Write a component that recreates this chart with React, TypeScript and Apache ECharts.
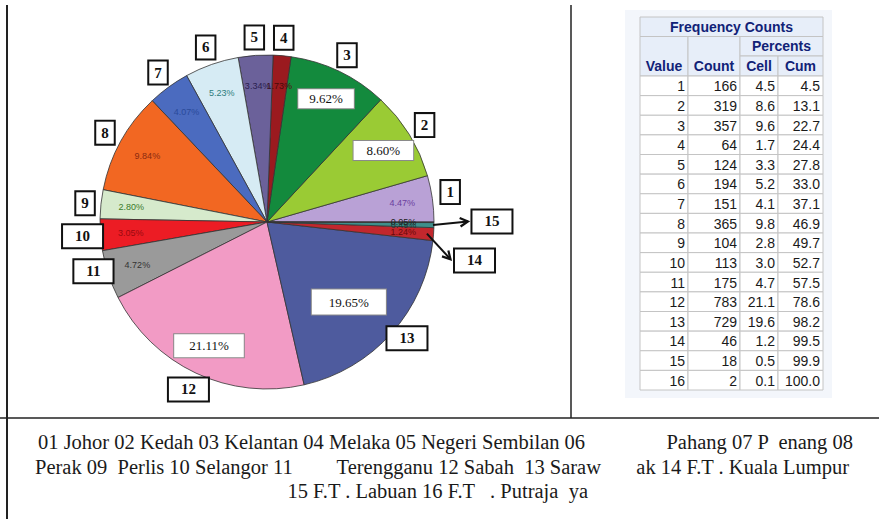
import React, { useEffect, useRef } from "react";
import * as echarts from "echarts";

// ---------- data ----------
const regionCodes = ["1", "2", "3", "4", "5", "6", "7", "8", "9", "10", "11", "12", "13", "14", "15", "16"];
const counts = [166, 319, 357, 64, 124, 194, 151, 365, 104, 113, 175, 783, 729, 46, 18, 2];
const cellPercents = ["4.5", "8.6", "9.6", "1.7", "3.3", "5.2", "4.1", "9.8", "2.8", "3.0", "4.7", "21.1", "19.6", "1.2", "0.5", "0.1"];
const cumPercents = ["4.5", "13.1", "22.7", "24.4", "27.8", "33.0", "37.1", "46.9", "49.7", "52.7", "57.5", "78.6", "98.2", "99.5", "99.9", "100.0"];
const sliceColors = [
  "#b9a1d6", "#9acb34", "#138a3d", "#9b1a1f", "#6b619a", "#d6ebf4", "#4b6bbf", "#f26722",
  "#d6eacc", "#ec1c24", "#9a9a9a", "#f29bc5", "#4e5b9e", "#c2272d", "#3f8f8b", "#777777",
];
const pctLabelColors = [
  "#6b3fa0", "#3a6a10", "#0a4a20", "#4a0a0a", "#2a2050", "#2e7d7d", "#2a4a9a", "#8a2a10",
  "#3a7a2a", "#9a0a10", "#333333", "#8a3060", "#1a2a60", "#6a0a0a", "#1a3a3a", "#222222",
];
const boxedPctIndex = [1, 2, 11, 12];
const tableTitle = "Frequency Counts";
const tableHeaders = ["Value", "Count", "Cell", "Cum"];
const percentsHeader = "Percents";
const footerLine1 = ["01 Johor 02 Kedah 03 Kelantan 04 Melaka 05 Negeri Sembilan 06", "Pahang 07 P  enang 08"];
const footerLine2 = ["Perak 09  Perlis 10 Selangor 11", "Terengganu 12 Sabah  13 Saraw", "ak 14 F.T . Kuala Lumpur"];
const footerLine3 = ["15 F.T . Labuan 16 F.T   . Putraja  ya"];

// ---------- layout ----------
const CX = 267;
const CY = 222;
const R = 167;
const total = counts.reduce((a, b) => a + b, 0);
const midAngles: number[] = [];
{
  let acc = 0;
  counts.forEach((c) => {
    midAngles.push(((acc + c / 2) / total) * 360);
    acc += c;
  });
}
const polar = (r: number, deg: number) => [
  CX + r * Math.cos((deg * Math.PI) / 180),
  CY - r * Math.sin((deg * Math.PI) / 180),
];
const pctText = (v: number) => ((v / total) * 100).toFixed(2) + "%";

const NUM_R = 182;
const numOffsets: Record<number, [number, number]> = {
  0: [0, -4],
  8: [2, 1],
  10: [2, -9],
  12: [2, -7],
  13: [23, 25],
  14: [40, -4],
};

function arrow(from: number[], to: number[]) {
  const ang = Math.atan2(to[1] - from[1], to[0] - from[0]);
  const L = 9;
  const a1 = ang + Math.PI - 0.5;
  const a2 = ang + Math.PI + 0.5;
  return [
    {
      type: "line",
      shape: { x1: from[0], y1: from[1], x2: to[0], y2: to[1] },
      style: { stroke: "#111", lineWidth: 2 },
      z: 20,
    },
    {
      type: "polyline",
      shape: {
        points: [
          [to[0] + L * Math.cos(a1), to[1] + L * Math.sin(a1)],
          [to[0], to[1]],
          [to[0] + L * Math.cos(a2), to[1] + L * Math.sin(a2)],
        ],
      },
      style: { stroke: "#111", lineWidth: 2.2, fill: "none" },
      z: 20,
    },
  ];
}

function buildTable() {
  const els: any[] = [];
  const colX = [640, 688, 740, 778, 823];
  const headY = [17, 36.5, 56, 76];
  const rowH = 19.625;
  const grid = "#c4c4c4";
  const headFill = "#e7eef9";
  const headColor = "#112277";
  const font = "Liberation Sans";
  els.push({ type: "rect", shape: { x: 625, y: 10, width: 207, height: 388 }, style: { fill: "#f3f6fb" }, z: 1 });
  const cell = (x: number, y: number, w: number, h: number, fill: string) =>
    els.push({ type: "rect", shape: { x, y, width: w, height: h }, style: { fill, stroke: grid, lineWidth: 1 }, z: 2 });
  const text = (t: string, x: number, y: number, align: string, bold: boolean, color: string) =>
    els.push({
      type: "text",
      x,
      y,
      style: {
        text: t,
        fill: color,
        fontSize: 14,
        fontFamily: font,
        fontWeight: bold ? "bold" : "normal",
        align,
        verticalAlign: "middle",
      },
      z: 3,
    });
  cell(colX[0], headY[0], colX[4] - colX[0], headY[1] - headY[0], headFill);
  text(tableTitle, (colX[0] + colX[4]) / 2, (headY[0] + headY[1]) / 2, "center", true, headColor);
  cell(colX[0], headY[1], colX[1] - colX[0], headY[3] - headY[1], headFill);
  cell(colX[1], headY[1], colX[2] - colX[1], headY[3] - headY[1], headFill);
  cell(colX[2], headY[1], colX[4] - colX[2], headY[2] - headY[1], headFill);
  text(percentsHeader, (colX[2] + colX[4]) / 2, (headY[1] + headY[2]) / 2, "center", true, headColor);
  cell(colX[2], headY[2], colX[3] - colX[2], headY[3] - headY[2], headFill);
  cell(colX[3], headY[2], colX[4] - colX[3], headY[3] - headY[2], headFill);
  tableHeaders.forEach((h, c) =>
    text(h, (colX[c] + colX[c + 1]) / 2, (headY[2] + headY[3]) / 2, "center", true, headColor)
  );
  regionCodes.forEach((code, i) => {
    const y = headY[3] + i * rowH;
    const vals = [code, String(counts[i]), cellPercents[i], cumPercents[i]];
    vals.forEach((v, c) => {
      cell(colX[c], y, colX[c + 1] - colX[c], rowH, "#ffffff");
      text(v, colX[c + 1] - 3, y + rowH / 2 + 0.5, "right", false, "#1a1a1a");
    });
  });
  return els;
}

function buildFooter() {
  const els: any[] = [];
  const mk = (t: string, x: number, y: number, align: string) =>
    els.push({
      type: "text",
      x,
      y,
      style: {
        text: t,
        fill: "#1a1a1a",
        fontSize: 20.5,
        fontFamily: "Liberation Serif",
        align,
        verticalAlign: "middle",
      },
      z: 5,
    });
  mk(footerLine1[0], 38, 442, "left");
  mk(footerLine1[1], 853, 442, "right");
  mk(footerLine2[0], 35, 467, "left");
  mk(footerLine2[1], 601, 467, "right");
  mk(footerLine2[2], 849, 467, "right");
  mk(footerLine3[0], 588, 491, "right");
  return els;
}

function buildOption(): any {
  const numPos = (i: number) => {
    const p = polar(NUM_R, midAngles[i]);
    const o = numOffsets[i] || [0, 0];
    return [p[0] + o[0], p[1] + o[1]];
  };
  const b14 = numPos(13);
  const b15 = numPos(14);
  const arrows = [
    ...arrow(polar(R * 0.96, midAngles[13]), [b14[0] - 21, b14[1] - 1]),
    ...arrow(polar(R - 1, midAngles[14]), [b15[0] - 21, b15[1]]),
  ];
  const frame = [
    { type: "line", shape: { x1: 7, y1: 5, x2: 7, y2: 519 }, style: { stroke: "#222", lineWidth: 2 }, z: 5 },
    { type: "line", shape: { x1: 571, y1: 5, x2: 571, y2: 418 }, style: { stroke: "#222", lineWidth: 1.5 }, z: 5 },
    { type: "line", shape: { x1: 0, y1: 418, x2: 879, y2: 418 }, style: { stroke: "#222", lineWidth: 1.5 }, z: 5 },
  ];

  const baseData = counts.map((v, i) => ({ name: regionCodes[i], value: v }));
  const transparent = { color: "rgba(0,0,0,0)", borderWidth: 0 };

  const boxPad: Record<number, number[]> = { 1: [3, 13], 2: [3, 11], 11: [5, 15], 12: [6, 17] };

  return {
    animation: false,
    backgroundColor: "#ffffff",
    graphic: { elements: [...frame, ...buildTable(), ...buildFooter(), ...arrows] },
    series: [
      {
        type: "pie",
        center: [CX, CY],
        radius: [0, R],
        startAngle: 0,
        clockwise: false,
        silent: true,
        label: { show: false },
        labelLine: { show: false },
        emphasis: { disabled: true },
        itemStyle: { borderColor: "#333", borderWidth: 0.8 },
        data: baseData.map((d, i) => ({ ...d, itemStyle: { color: sliceColors[i] } })),
        z: 2,
      },
      {
        type: "pie",
        center: [CX, CY],
        radius: [0, R * 1.6],
        startAngle: 0,
        clockwise: false,
        silent: true,
        itemStyle: transparent,
        emphasis: { disabled: true },
        labelLine: { show: false },
        label: {
          show: true,
          position: "inside",
          rotate: 0,
          fontSize: 9,
          fontFamily: "Liberation Sans",
          formatter: (p: any) => pctText(p.value),
        },
        labelLayout: (p: any) => (p.dataIndex === 12 ? { dx: -20, dy: -11 } : {}),
        data: baseData.map((d, i) =>
          boxedPctIndex.includes(i)
            ? {
                ...d,
                label: {
                  fontSize: 13,
                  fontFamily: "Liberation Serif",
                  color: "#111",
                  backgroundColor: "#ffffff",
                  borderColor: "#8a8a8a",
                  borderWidth: 1,
                  padding: boxPad[i],
                },
              }
            : { ...d, label: { color: pctLabelColors[i] } }
        ),
        z: 3,
      },
      {
        type: "pie",
        center: [CX, CY],
        radius: [0, NUM_R * 2],
        startAngle: 0,
        clockwise: false,
        silent: true,
        itemStyle: transparent,
        emphasis: { disabled: true },
        labelLine: { show: false },
        label: {
          show: true,
          position: "inside",
          rotate: 0,
          fontSize: 15,
          fontWeight: "bold",
          fontFamily: "Liberation Serif",
          color: "#111",
          backgroundColor: "#ffffff",
          borderColor: "#111",
          borderWidth: 2,
          formatter: "{b}",
        },
        labelLayout: (p: any) => {
          const o = numOffsets[p.dataIndex];
          return o ? { dx: o[0], dy: o[1] } : {};
        },
        data: baseData.map((d, i) => ({
          ...d,
          label: i === 15 ? { show: false } : { padding: d.name.length > 1 ? [4, 12, 3, 12] : [4, 5, 3, 5] },
        })),
        z: 4,
      },
    ],
  };
}

export default function App() {
  const ref = useRef<HTMLDivElement>(null);
  useEffect(() => {
    if (!ref.current) return;
    const chart = echarts.init(ref.current, null, { renderer: "svg" });
    chart.setOption(buildOption());
    return () => chart.dispose();
  }, []);
  return (
    <div
      ref={ref}
      style={{ position: "absolute", left: 0, top: 0, width: 879, height: 519, background: "#fff" }}
    />
  );
}
